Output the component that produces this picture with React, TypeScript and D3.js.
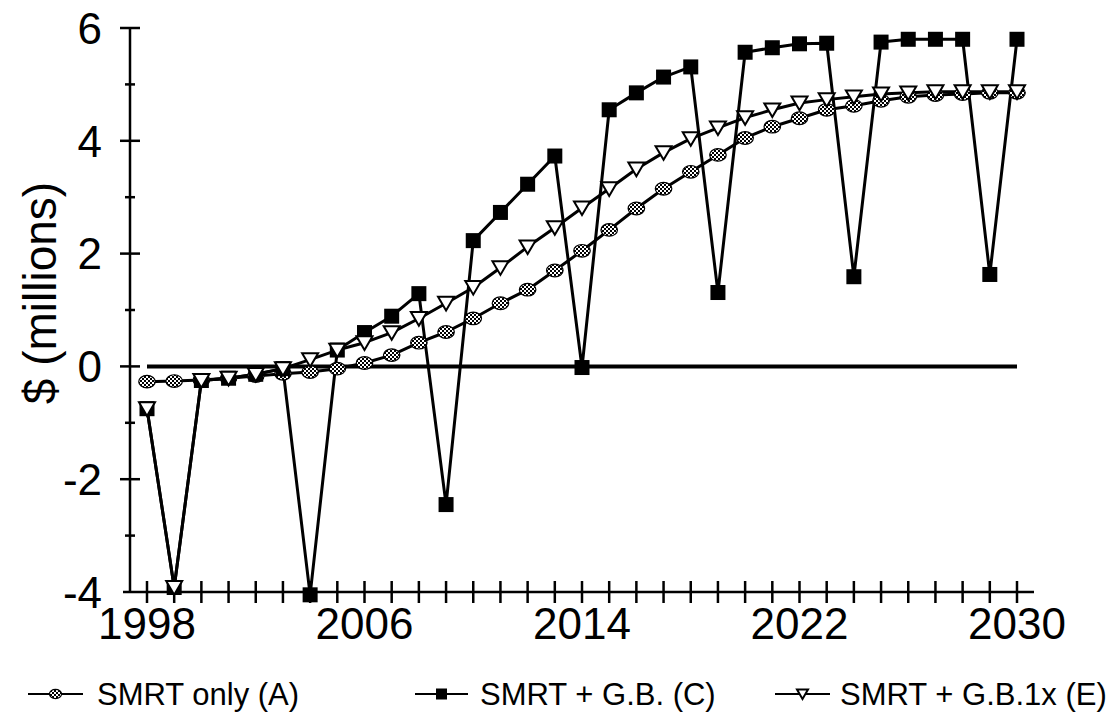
import { useEffect, useRef } from "react";
import * as d3 from "d3";

// years on the x axis, one point per year
const years = [
  1998, 1999, 2000, 2001, 2002, 2003, 2004, 2005, 2006, 2007, 2008,
  2009, 2010, 2011, 2012, 2013, 2014, 2015, 2016, 2017, 2018, 2019,
  2020, 2021, 2022, 2023, 2024, 2025, 2026, 2027, 2028, 2029, 2030,
];

// SMRT only (A)
const smrtOnly = [
  -0.27, -0.26, -0.24, -0.21, -0.17, -0.13, -0.1, -0.04, 0.06, 0.2, 0.42,
  0.61, 0.85, 1.12, 1.36, 1.7, 2.05, 2.42, 2.8, 3.15, 3.45, 3.75,
  4.05, 4.25, 4.4, 4.55, 4.62, 4.71, 4.78, 4.81, 4.83, 4.85, 4.85,
];

// SMRT + G.B. (C)
const smrtGB = [
  -0.75, -3.92, -0.25, -0.21, -0.14, -0.04, -4.05, 0.29, 0.6, 0.89, 1.29,
  -2.45, 2.23, 2.73, 3.23, 3.73, -0.02, 4.55, 4.85, 5.13, 5.31, 1.31,
  5.57, 5.65, 5.72, 5.73, 1.59, 5.75, 5.8, 5.8, 5.8, 1.63, 5.8,
];

// SMRT + G.B.1x (E)
const smrtGB1x = [
  -0.75, -3.92, -0.25, -0.21, -0.14, -0.04, 0.12, 0.29, 0.42, 0.6, 0.85,
  1.12, 1.4, 1.75, 2.12, 2.46, 2.81, 3.15, 3.5, 3.79, 4.04, 4.23,
  4.41, 4.55, 4.67, 4.73, 4.78, 4.83, 4.85, 4.87, 4.87, 4.87, 4.87,
];

// the zero reference line
const baseYears = [1998, 2030];
const baseValues = [0, 0];

const yTicks = [-4, -3, -2, -1, 0, 1, 2, 3, 4, 5, 6];
const yTickLabels = [-4, -2, 0, 2, 4, 6];
const xTickLabels = [1998, 2006, 2014, 2022, 2030];
const legendLabels = ["SMRT only (A)", "SMRT + G.B. (C)", "SMRT + G.B.1x (E)"];

const W = 1106;
const H = 721;
const FONT = "'Liberation Sans', Arial, sans-serif";

const App = () => {
  const ref = useRef<SVGSVGElement | null>(null);

  useEffect(() => {
    if (!ref.current) return;
    const svg = d3.select(ref.current);
    svg.selectAll("*").remove();

    const x = d3.scaleLinear().domain([1998, 2030]).range([147, 1017]);
    const y = d3.scaleLinear().domain([-4, 6]).range([592, 28]);
    const axisX = 130;

    // checkered fill for the circle markers
    const pat = svg.append("defs").append("pattern")
      .attr("id", "checker")
      .attr("patternUnits", "userSpaceOnUse")
      .attr("width", 4)
      .attr("height", 4);
    pat.append("rect").attr("width", 4).attr("height", 4).attr("fill", "#fff");
    pat.append("rect").attr("width", 2).attr("height", 2).attr("fill", "#000");
    pat.append("rect").attr("x", 2).attr("y", 2).attr("width", 2).attr("height", 2).attr("fill", "#000");

    // y axis
    svg.append("line")
      .attr("x1", axisX).attr("x2", axisX)
      .attr("y1", y(6)).attr("y2", y(-4))
      .attr("stroke", "#000").attr("stroke-width", 2.5);

    svg.append("g")
      .selectAll("line")
      .data(yTicks.filter(d => d !== -4))
      .join("line")
      .attr("x1", d => axisX - (d % 2 === 0 ? 10 : 5))
      .attr("x2", d => axisX + (d % 2 === 0 ? 10 : 5))
      .attr("y1", d => y(d)).attr("y2", d => y(d))
      .attr("stroke", "#000").attr("stroke-width", 2.5);

    svg.append("g")
      .selectAll("text")
      .data(yTickLabels)
      .join("text")
      .attr("x", 102)
      .attr("y", d => y(d))
      .attr("dy", "0.36em")
      .attr("text-anchor", "end")
      .attr("font-family", FONT)
      .attr("font-size", 44)
      .text(d => String(d));

    // x axis
    svg.append("line")
      .attr("x1", 123).attr("x2", 1034)
      .attr("y1", y(-4)).attr("y2", y(-4))
      .attr("stroke", "#000").attr("stroke-width", 2.5);

    svg.append("g")
      .selectAll("line")
      .data(years)
      .join("line")
      .attr("x1", d => x(d)).attr("x2", d => x(d))
      .attr("y1", y(-4) - 11).attr("y2", y(-4) + 11)
      .attr("stroke", "#000").attr("stroke-width", 2.5);

    svg.append("g")
      .selectAll("text")
      .data(xTickLabels)
      .join("text")
      .attr("x", d => x(d))
      .attr("y", 639)
      .attr("text-anchor", "middle")
      .attr("font-family", FONT)
      .attr("font-size", 44)
      .text(d => String(d));

    svg.append("text")
      .attr("transform", "translate(56,293) rotate(-90)")
      .attr("text-anchor", "middle")
      .attr("font-family", FONT)
      .attr("font-size", 46)
      .text("$ (millions)");

    // zero line
    const baseLine = d3.line<number>().x(i => x(baseYears[i])).y(i => y(baseValues[i]));
    svg.append("path")
      .attr("d", baseLine([0, 1]))
      .attr("fill", "none")
      .attr("stroke", "#000")
      .attr("stroke-width", 4);

    const I = d3.range(years.length);
    const drawLine = (vals: number[]) => {
      const line = d3.line<number>().x(i => x(years[i])).y(i => y(vals[i]));
      svg.append("path")
        .attr("d", line(I))
        .attr("fill", "none")
        .attr("stroke", "#000")
        .attr("stroke-width", 3)
        .attr("stroke-linejoin", "round");
    };

    const circles = (g: any, cx: (i: number) => number, cy: (i: number) => number, s: number) =>
      g.append("ellipse")
        .attr("cx", cx).attr("cy", cy)
        .attr("rx", s * 0.55).attr("ry", s * 0.42)
        .attr("fill", "url(#checker)")
        .attr("stroke", "#000").attr("stroke-width", 1.2);

    const squares = (g: any, cx: (i: number) => number, cy: (i: number) => number, s: number) =>
      g.append("rect")
        .attr("x", (i: number) => cx(i) - s / 2).attr("y", (i: number) => cy(i) - s / 2)
        .attr("width", s).attr("height", s)
        .attr("fill", "#000");

    const triangles = (g: any, cx: (i: number) => number, cy: (i: number) => number, s: number) =>
      g.append("path")
        .attr("d", (i: number) => {
          const px = cx(i), py = cy(i);
          return `M${px - s / 2},${py - s * 0.4}L${px + s / 2},${py - s * 0.4}L${px},${py + s * 0.45}Z`;
        })
        .attr("fill", "#fff")
        .attr("stroke", "#000").attr("stroke-width", 2);

    const series = [
      { vals: smrtOnly, mark: circles, size: 15 },
      { vals: smrtGB, mark: squares, size: 15 },
      { vals: smrtGB1x, mark: triangles, size: 16 },
    ];

    series.forEach(s => drawLine(s.vals));
    series.forEach(s => {
      const g = svg.append("g").selectAll("g").data(I).join("g");
      s.mark(g, (i: number) => x(years[i]), (i: number) => y(s.vals[i]), s.size);
    });

    // legend
    const legendPos = [
      { x0: 28, x1: 83, tx: 97 },
      { x0: 415, x1: 468, tx: 480 },
      { x0: 775, x1: 830, tx: 840 },
    ];
    const ly = 694;
    legendLabels.forEach((label, k) => {
      const p = legendPos[k];
      svg.append("line")
        .attr("x1", p.x0).attr("x2", p.x1)
        .attr("y1", ly).attr("y2", ly)
        .attr("stroke", "#000").attr("stroke-width", 2);
      const g = svg.append("g").selectAll("g").data([0]).join("g");
      series[k].mark(g, () => (p.x0 + p.x1) / 2, () => ly, 11);
      svg.append("text")
        .attr("x", p.tx)
        .attr("y", ly)
        .attr("dy", "0.36em")
        .attr("font-family", FONT)
        .attr("font-size", 31)
        .text(label);
    });
  }, []);

  return (
    <svg
      ref={ref}
      width={W}
      height={H}
      viewBox={`0 0 ${W} ${H}`}
      style={{ position: "absolute", left: 0, top: 0, background: "#fff" }}
    />
  );
};

export default App;
